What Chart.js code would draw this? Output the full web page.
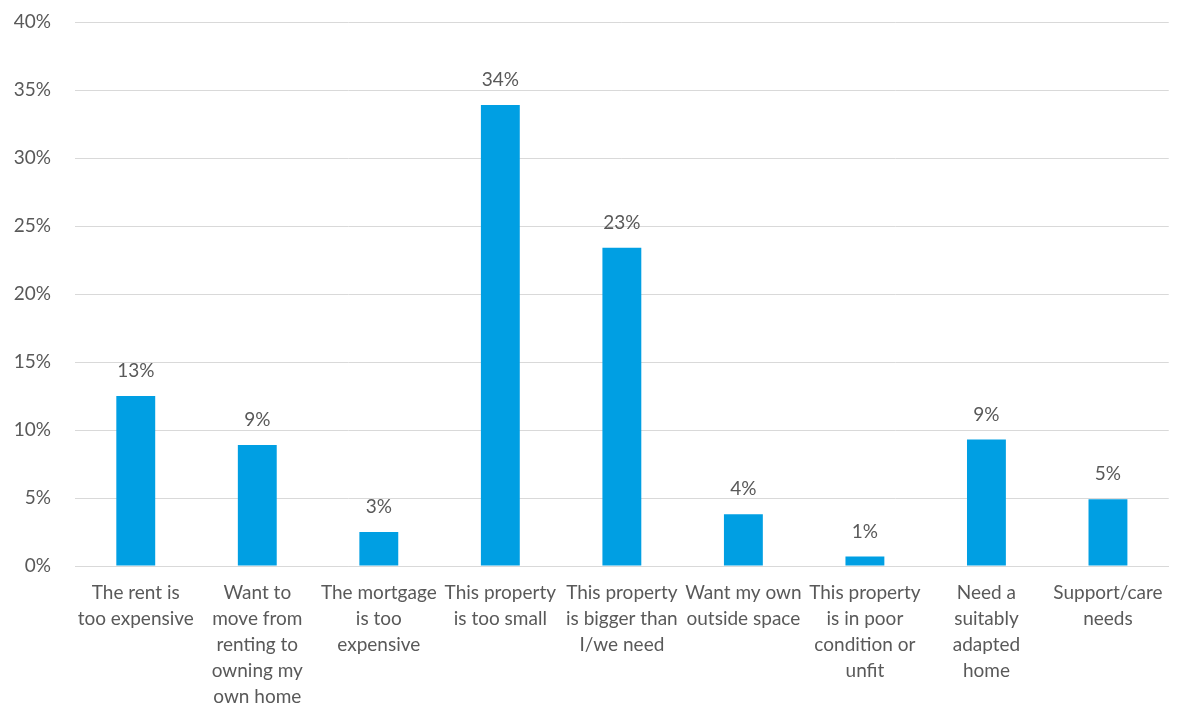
<!DOCTYPE html>
<html lang="en">
<head>
    <meta charset="UTF-8">
    <title>Reasons for wanting to move</title>
    <script src="https://cdn.jsdelivr.net/npm/chart.js"></script>
    <style>
        html, body {
            margin: 0;
            padding: 0;
            background: #ffffff;
        }
        #wrap {
            width: 1177px;
            height: 706px;
        }
    </style>
</head>
<body>
    <div id="wrap"><canvas id="chart"></canvas></div>

    <script>
        // categories (multi-line labels as drawn under the axis)
        const reasons = [
            ["The rent is", "too expensive"],
            ["Want to", "move from", "renting to", "owning my", "own home"],
            ["The mortgage", "is too", "expensive"],
            ["This property", "is too small"],
            ["This property", "is bigger than", "I/we need"],
            ["Want my own", "outside space"],
            ["This property", "is in poor", "condition or", "unfit"],
            ["Need a", "suitably", "adapted", "home"],
            ["Support/care", "needs"]
        ];
        // share of respondents, %
        const shares = [12.5, 8.9, 2.5, 33.9, 23.4, 3.8, 0.7, 9.3, 4.9];
        const yTicks = [0, 5, 10, 15, 20, 25, 30, 35, 40];

        const textColor = "#595959";
        const fontFamily = "Lato, 'Open Sans', sans-serif";
        const fontSize = 19;

        // value labels above each bar
        const valueLabels = {
            id: "valueLabels",
            afterDatasetsDraw(chart) {
                const ctx = chart.ctx;
                const meta = chart.getDatasetMeta(0);
                ctx.save();
                ctx.fillStyle = textColor;
                ctx.font = fontSize + "px " + fontFamily;
                ctx.textAlign = "center";
                ctx.textBaseline = "middle";
                meta.data.forEach((bar, i) => {
                    ctx.fillText(Math.round(shares[i]) + "%", bar.x, bar.y - 25);
                });
                ctx.restore();
            }
        };

        new Chart(document.getElementById("chart"), {
            type: "bar",
            data: {
                labels: reasons,
                datasets: [{
                    data: shares,
                    backgroundColor: "#009FE3",
                    borderWidth: 0,
                    barPercentage: 0.32,
                    categoryPercentage: 1
                }]
            },
            options: {
                responsive: true,
                maintainAspectRatio: false,
                animation: false,
                layout: {
                    padding: { top: 0, right: 7, left: 0, bottom: 0 }
                },
                plugins: {
                    legend: { display: false },
                    tooltip: { enabled: false }
                },
                scales: {
                    x: {
                        grid: { display: false, drawTicks: false },
                        border: { color: "#D9D9D9", width: 1 },
                        ticks: {
                            color: textColor,
                            font: { family: fontFamily, size: fontSize, lineHeight: 26 / fontSize },
                            padding: 14,
                            maxRotation: 0,
                            autoSkip: false
                        },
                        afterFit(scale) { scale.height = 140; }
                    },
                    y: {
                        min: 0,
                        max: 40,
                        afterBuildTicks(scale) {
                            scale.ticks = yTicks.map(v => ({ value: v }));
                        },
                        grid: { color: "#D9D9D9", lineWidth: 1, drawTicks: false },
                        border: { display: false },
                        ticks: {
                            color: textColor,
                            font: { family: fontFamily, size: fontSize },
                            padding: 24,
                            callback: v => v + "%"
                        },
                        afterFit(scale) {
                            scale.width = 75;
                            // keep the 40% gridline close to the top edge
                            scale.paddingTop = 22;
                            scale.paddingBottom = 0;
                        }
                    }
                }
            },
            plugins: [valueLabels]
        });
    </script>
</body>
</html>
